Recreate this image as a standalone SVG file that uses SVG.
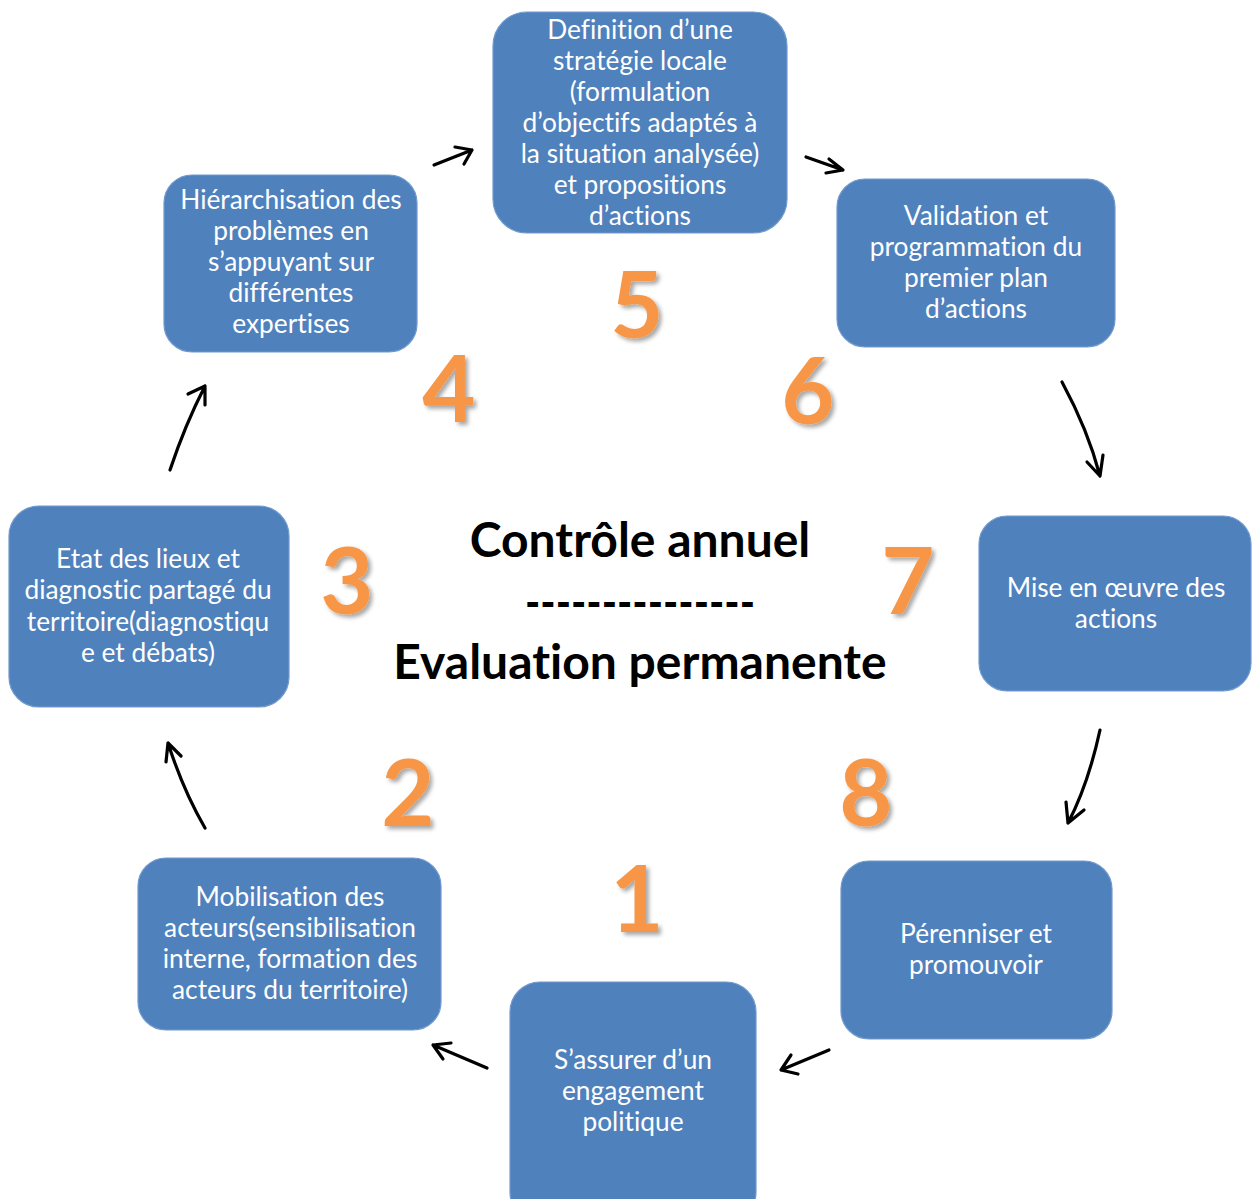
<svg xmlns="http://www.w3.org/2000/svg" width="1252" height="1199" viewBox="0 0 1252 1199">
<defs>
<style>
text{font-variant-ligatures:none}
.box{fill:#4F81BD;stroke:#7199CC;stroke-width:1.2}
.bt{font-family:Lato,"Liberation Sans",sans-serif;font-size:26.3px;fill:#fff;text-anchor:middle}
.num{font-family:Lato,"Liberation Sans",sans-serif;font-weight:bold;font-size:92px;fill:#F79646;text-anchor:middle;filter:url(#sh)}
.ct{font-family:Lato,"Liberation Sans",sans-serif;font-weight:bold;font-size:48px;fill:#000;text-anchor:middle}
.arr{fill:none;stroke:#000;stroke-width:3.2;stroke-linecap:round;stroke-linejoin:round}
</style>
<filter id="sh" x="-30%" y="-30%" width="160%" height="160%">
<feGaussianBlur in="SourceAlpha" stdDeviation="2"/>
<feOffset dx="3" dy="3" result="o"/>
<feComponentTransfer><feFuncA type="linear" slope="0.35"/></feComponentTransfer>
<feMerge><feMergeNode/><feMergeNode in="SourceGraphic"/></feMerge>
</filter>
</defs>
<rect width="1252" height="1199" fill="#fff"/>

<g id="connectors">
<path class="arr" d="M434,165 L472,150 M455,147 L472,150 L464,164"/>
<path class="arr" d="M806,157 L843,170 M829,159 L843,170 L826,173"/>
<path class="arr" d="M1062,382 Q1088,430 1100,476 M1087,462 L1100,476 L1103,455"/>
<path class="arr" d="M1100,730 Q1088,785 1068,823 M1066,802 L1068,823 L1084,810"/>
<path class="arr" d="M829,1050 L781,1070 M791,1055 L781,1070 L798,1074"/>
<path class="arr" d="M487,1068 L433,1045 M451,1043 L433,1045 L443,1059"/>
<path class="arr" d="M205,828 Q183,790 168,743 M166,762 L168,743 L181,756"/>
<path class="arr" d="M170,470 Q185,425 205,386 M188,394 L205,386 L205,405"/>
</g>

<g id="n5">
<rect class="box" x="493" y="12" width="294" height="221" rx="34"/>
<text class="bt"><tspan x="640" y="39">Definition d’une</tspan><tspan x="640" y="70">stratégie locale</tspan><tspan x="640" y="101">(formulation</tspan><tspan x="640" y="132">d’objectifs adaptés à</tspan><tspan x="640" y="163">la situation analysée)</tspan><tspan x="640" y="194">et propositions</tspan><tspan x="640" y="225">d’actions</tspan></text>
</g>
<g id="n4">
<rect class="box" x="164" y="175" width="253" height="177" rx="28"/>
<text class="bt"><tspan x="291" y="209">Hiérarchisation des</tspan><tspan x="291" y="240">problèmes en</tspan><tspan x="291" y="271">s’appuyant sur</tspan><tspan x="291" y="302">différentes</tspan><tspan x="291" y="333">expertises</tspan></text>
</g>
<g id="n6">
<rect class="box" x="837" y="179" width="278" height="168" rx="28"/>
<text class="bt"><tspan x="976" y="225">Validation et</tspan><tspan x="976" y="256">programmation du</tspan><tspan x="976" y="287">premier plan</tspan><tspan x="976" y="318">d’actions</tspan></text>
</g>
<g id="n3">
<rect class="box" x="9" y="506" width="280" height="201" rx="30"/>
<text class="bt"><tspan x="148" y="568">Etat des lieux et</tspan><tspan x="148" y="599">diagnostic partagé du</tspan><tspan x="148" y="631">territoire(diagnostiqu</tspan><tspan x="148" y="662">e et débats)</tspan></text>
</g>
<g id="n7">
<rect class="box" x="979" y="516" width="272" height="175" rx="28"/>
<text class="bt"><tspan x="1116" y="597">Mise en œuvre des</tspan><tspan x="1116" y="628">actions</tspan></text>
</g>
<g id="n2">
<rect class="box" x="138" y="858" width="303" height="172" rx="28"/>
<text class="bt"><tspan x="290" y="906">Mobilisation des</tspan><tspan x="290" y="937">acteurs(sensibilisation</tspan><tspan x="290" y="968">interne, formation des</tspan><tspan x="290" y="999">acteurs du territoire)</tspan></text>
</g>
<g id="n8">
<rect class="box" x="841" y="861" width="271" height="178" rx="28"/>
<text class="bt"><tspan x="976" y="943">Pérenniser et</tspan><tspan x="976" y="974">promouvoir</tspan></text>
</g>
<g id="n1">
<rect class="box" x="510" y="982" width="246" height="240" rx="30"/>
<text class="bt"><tspan x="633" y="1069">S’assurer d’un</tspan><tspan x="633" y="1100">engagement</tspan><tspan x="633" y="1131">politique</tspan></text>
</g>

<g id="numbers">
<text class="num" x="637" y="338">5</text>
<text class="num" x="449" y="422">4</text>
<text class="num" x="808" y="424">6</text>
<text class="num" x="347" y="614">3</text>
<text class="num" x="908" y="614">7</text>
<text class="num" x="408" y="826">2</text>
<text class="num" x="866" y="826">8</text>
<text class="num" x="637" y="932">1</text>
</g>

<g id="center">
<text class="ct" x="640" y="557">Contrôle annuel</text>
<text class="ct" x="640" y="619" font-size="42" textLength="230" lengthAdjust="spacingAndGlyphs">---------------</text>
<text class="ct" x="640" y="679">Evaluation permanente</text>
</g>
</svg>
